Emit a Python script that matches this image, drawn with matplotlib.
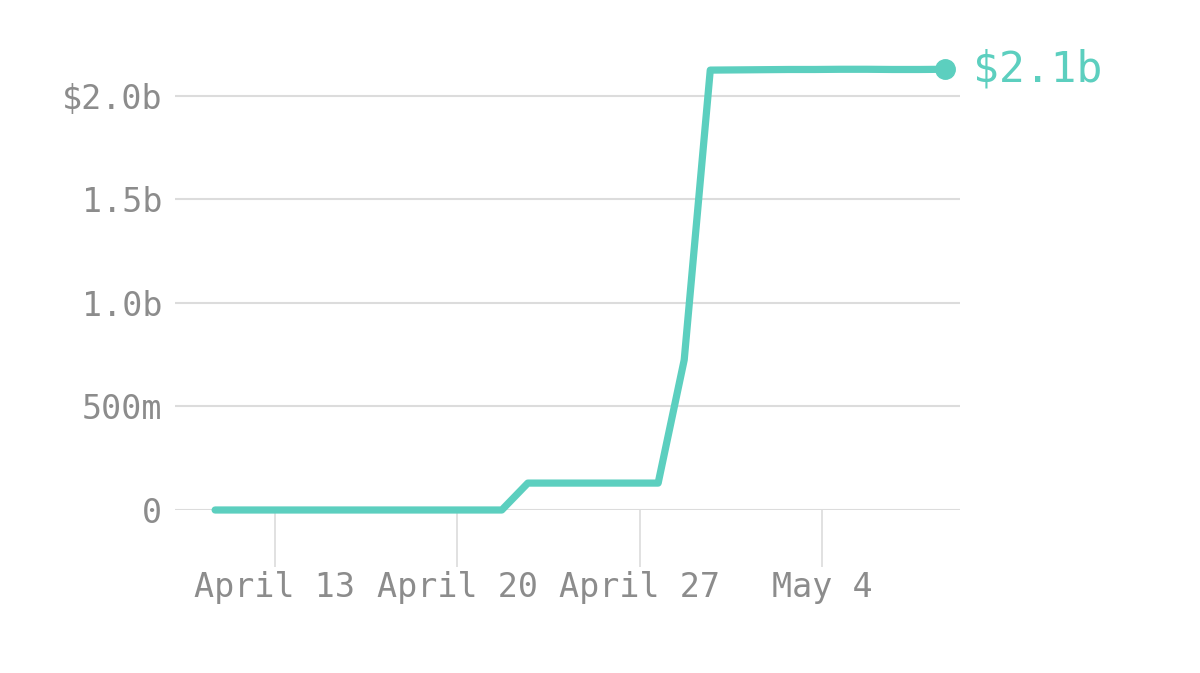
import matplotlib
matplotlib.use("Agg")
import matplotlib.pyplot as plt
import pandas as pd

# 每日累计数据（单位：十亿美元），时间点约为每天 17:00
dates = pd.date_range("2020-04-10 17:00", "2020-05-08 17:00", freq="D")
values = [0, 0, 0, 0, 0, 0, 0, 0, 0, 0, 0, 0,
          0.13, 0.13, 0.13, 0.13, 0.13, 0.13,
          0.725, 2.125,
          2.126, 2.127, 2.128, 2.128, 2.129, 2.129, 2.128, 2.128, 2.129]

tick_dates = pd.to_datetime(["2020-04-13", "2020-04-20", "2020-04-27", "2020-05-04"])
tick_labels = ["April 13", "April 20", "April 27", "May 4"]
y_ticks = [0, 0.5, 1.0, 1.5, 2.0]
y_labels = ["0", "500m", "1.0b", "1.5b", "$2.0b"]
end_label = "$2.1b"

teal = "#5ccfbf"
grey = "#8c8c8c"
grid = "#dcdcdc"

plt.rcParams["font.family"] = ["DejaVu Sans Mono", "DejaVu Sans"]

fig = plt.figure(figsize=(12, 6.73), dpi=100)
ax = fig.add_axes([0.1458, 0.2422, 0.8 - 0.1458, 0.6767])

ax.plot(dates, values, color=teal, lw=5.2, solid_capstyle="round",
        solid_joinstyle="round", clip_on=False, zorder=3)
ax.plot(dates[-1], values[-1], "o", color=teal, ms=14, clip_on=False, zorder=4)
ax.annotate(end_label, (dates[-1], values[-1]), xytext=(20, 0),
            textcoords="offset points", color=teal, fontsize=31,
            va="center", ha="left", annotation_clip=False)

ax.set_xlim(pd.Timestamp("2020-04-09 04:00"), pd.Timestamp("2020-05-09 07:00"))
ax.set_ylim(0, 2.2)

ax.set_yticks(y_ticks)
ax.set_yticklabels(y_labels)
ax.yaxis.grid(True, color=grid, lw=1.5)
ax.set_axisbelow(True)
ax.tick_params(axis="y", length=0, pad=9, labelsize=24, labelcolor=grey)

ax.set_xticks(tick_dates)
ax.set_xticklabels(tick_labels)
ax.tick_params(axis="x", length=41, width=1.2, color=grid, pad=3,
               labelsize=24, labelcolor=grey)

for s in ax.spines.values():
    s.set_visible(False)

fig.savefig("out.png", dpi=100, facecolor="white")
